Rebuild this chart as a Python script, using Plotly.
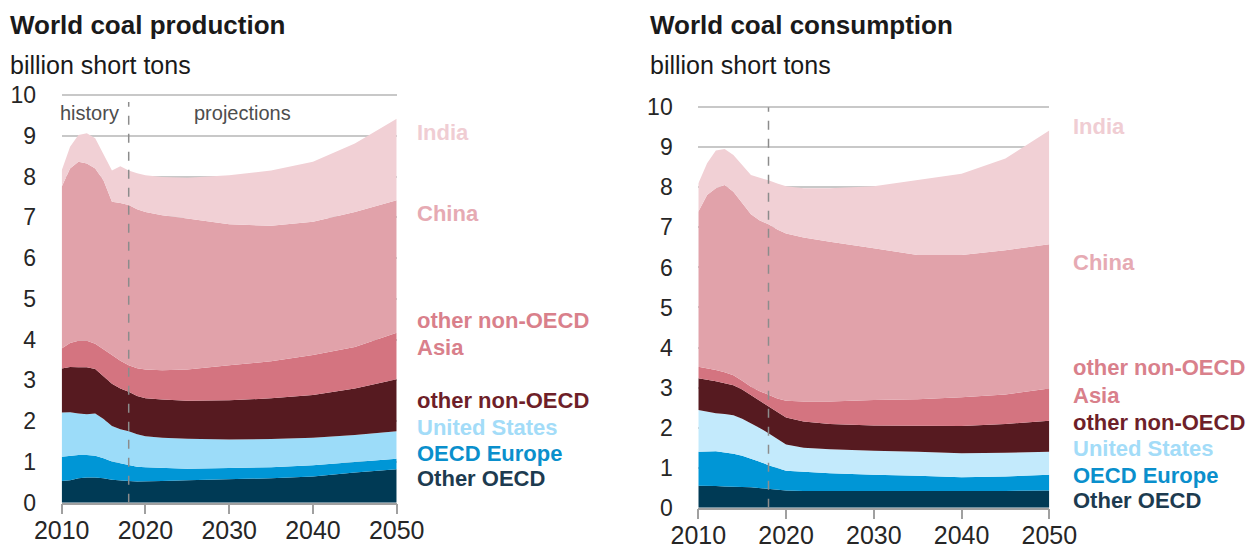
import plotly.graph_objects as go

# ---------------- data ----------------
years = [2010, 2011, 2012, 2013, 2014, 2015, 2016, 2017, 2018, 2019, 2020,
         2022, 2025, 2030, 2035, 2040, 2045, 2050]

series_names = ["Other OECD", "OECD Europe", "United States", "other non-OECD",
                "other non-OECD Asia", "China", "India"]

# World coal production (billion short tons)
prod_other_oecd = [0.53, 0.55, 0.60, 0.62, 0.62, 0.60, 0.56, 0.54, 0.53, 0.52, 0.52,
                   0.53, 0.55, 0.57, 0.60, 0.64, 0.74, 0.82]
prod_oecd_europe = [0.60, 0.60, 0.57, 0.55, 0.53, 0.49, 0.45, 0.43, 0.39, 0.36, 0.35,
                    0.32, 0.28, 0.28, 0.27, 0.28, 0.26, 0.26]
prod_united_states = [1.08, 1.07, 1.02, 1.00, 1.04, 0.96, 0.87, 0.83, 0.83, 0.80, 0.76,
                      0.74, 0.74, 0.70, 0.69, 0.67, 0.66, 0.67]
prod_other_non_oecd = [1.08, 1.11, 1.13, 1.15, 1.09, 1.05, 1.04, 1.00, 0.97, 0.94, 0.93,
                       0.94, 0.93, 0.96, 1.00, 1.05, 1.14, 1.28]
prod_other_nonoecd_asia = [0.49, 0.59, 0.65, 0.65, 0.62, 0.65, 0.70, 0.68, 0.65, 0.68, 0.71,
                           0.72, 0.77, 0.86, 0.91, 0.98, 1.02, 1.14]
prod_china = [3.97, 4.28, 4.39, 4.35, 4.30, 4.15, 3.76, 3.87, 3.93, 3.90, 3.86,
              3.80, 3.70, 3.46, 3.32, 3.27, 3.31, 3.25]
prod_india = [0.40, 0.53, 0.66, 0.74, 0.74, 0.66, 0.77, 0.90, 0.85, 0.88, 0.90,
              0.94, 1.00, 1.20, 1.36, 1.47, 1.68, 2.00]

# World coal consumption (billion short tons)
cons_other_oecd = [0.55, 0.55, 0.54, 0.53, 0.53, 0.52, 0.51, 0.49, 0.47, 0.45, 0.43,
                   0.42, 0.42, 0.41, 0.41, 0.41, 0.42, 0.43]
cons_oecd_europe = [0.85, 0.86, 0.87, 0.85, 0.82, 0.78, 0.72, 0.66, 0.59, 0.53, 0.49,
                    0.48, 0.44, 0.41, 0.39, 0.35, 0.36, 0.39]
cons_united_states = [1.04, 0.99, 0.95, 0.96, 0.96, 0.92, 0.88, 0.84, 0.80, 0.74, 0.66,
                      0.60, 0.60, 0.60, 0.60, 0.60, 0.59, 0.58]
cons_other_non_oecd = [0.79, 0.80, 0.80, 0.77, 0.75, 0.73, 0.70, 0.68, 0.66, 0.66, 0.67,
                       0.65, 0.63, 0.63, 0.65, 0.68, 0.72, 0.77]
cons_other_nonoecd_asia = [0.29, 0.28, 0.28, 0.27, 0.25, 0.22, 0.21, 0.24, 0.29, 0.35, 0.42,
                           0.50, 0.56, 0.64, 0.66, 0.72, 0.74, 0.81]
cons_china = [3.87, 4.33, 4.54, 4.68, 4.58, 4.45, 4.31, 4.26, 4.27, 4.22, 4.18,
              4.10, 3.99, 3.79, 3.60, 3.55, 3.60, 3.60]
cons_india = [0.71, 0.79, 0.94, 0.90, 0.92, 0.94, 0.98, 1.07, 1.10, 1.15, 1.18,
              1.23, 1.34, 1.55, 1.87, 2.03, 2.29, 2.84]

projection_start = 2018
x_ticks = [2010, 2020, 2030, 2040, 2050]
y_ticks = [0, 1, 2, 3, 4, 5, 6, 7, 8, 9, 10]

# ---------------- styles ----------------
fill_colors = ["#003a55", "#0096d6", "#9cdcf9", "#561a20", "#d47480", "#e1a2aa", "#f1d0d5"]
fill_colors_cons = ["#003a55", "#0096d6", "#c3eafc", "#561a20", "#d47480", "#e1a2aa", "#f1d0d5"]
label_colors = ["#1d3b50", "#0a8fcc", "#a3dcf8", "#6e1f29", "#d9808b", "#e6aab3", "#f0cdd3"]

FONT = "Liberation Sans, Arial, sans-serif"
W, H = 1258, 550
OFF = 8  # page body margin in the screenshot
YTOP = 10.05  # small headroom so the top gridline (10) is drawn

prod = [prod_other_oecd, prod_oecd_europe, prod_united_states, prod_other_non_oecd,
        prod_other_nonoecd_asia, prod_china, prod_india]
cons = [cons_other_oecd, cons_oecd_europe, cons_united_states, cons_other_non_oecd,
        cons_other_nonoecd_asia, cons_china, cons_india]

fig = go.Figure()
for name, vals, col in zip(series_names, prod, fill_colors):
    fig.add_trace(go.Scatter(x=years, y=vals, name=name, mode="lines",
                             stackgroup="prod", line=dict(width=0, color=col),
                             fillcolor=col, xaxis="x", yaxis="y", showlegend=False))
for name, vals, col in zip(series_names, cons, fill_colors_cons):
    fig.add_trace(go.Scatter(x=years, y=vals, name=name, mode="lines",
                             stackgroup="cons", line=dict(width=0, color=col),
                             fillcolor=col, xaxis="x2", yaxis="y2", showlegend=False))


def px_x(p):
    return (p - OFF) / W


def px_y(p):
    return 1 - (p - OFF) / H


# pixel geometry of the two panels (y0 = pixel of value 0, ppu = pixels per unit)
L_Y0, L_PPU = 502.7, 40.77
R_Y0, R_PPU = 507.7, 40.04

xcommon = dict(range=[2010, 2050], tickvals=x_ticks, showgrid=False, zeroline=False,
               showline=True, linecolor="#a0a0a0", linewidth=1.5,
               ticks="outside", ticklen=10, tickwidth=1.5, tickcolor="#a0a0a0",
               ticklabelstandoff=-5,
               tickfont=dict(family=FONT, size=25, color="#262626"), fixedrange=True,
               automargin=False)
ycommon = dict(range=[0, YTOP], tickvals=y_ticks, showgrid=True, gridcolor="#c8c8c8",
               gridwidth=1.5, zeroline=False, showline=False,
               ticks="outside", ticklen=20, tickcolor="rgba(0,0,0,0)",
               tickfont=dict(family=FONT, size=23, color="#262626"), fixedrange=True,
               automargin=False)

fig.update_layout(
    width=W, height=H, autosize=False,
    margin=dict(l=0, r=0, t=0, b=0, pad=0),
    paper_bgcolor="white", plot_bgcolor="white",
    xaxis=dict(domain=[px_x(61.7), px_x(396.7)], anchor="y", **xcommon),
    yaxis=dict(domain=[px_y(L_Y0), px_y(L_Y0 - YTOP * L_PPU)], anchor="x", **ycommon),
    xaxis2=dict(domain=[px_x(698.3), px_x(1049.3)], anchor="y2", **xcommon),
    yaxis2=dict(domain=[px_y(R_Y0), px_y(R_Y0 - YTOP * R_PPU)], anchor="x2", **ycommon),
)

# dashed history / projections divider
fig.add_shape(type="line", xref="x", yref="y", x0=projection_start, x1=projection_start,
              y0=0, y1=9.83, line=dict(color="#8c8c8c", width=1.5, dash="dash"))
fig.add_shape(type="line", xref="x2", yref="y2", x0=projection_start, x1=projection_start,
              y0=0, y1=10, line=dict(color="#8c8c8c", width=1.5, dash="dash"))

ann = []
ann.append(dict(text="history", xref="x", yref="y", x=2013.3, y=9.55, showarrow=False,
                font=dict(family=FONT, size=20, color="#4d4d4d")))
ann.append(dict(text="projections", xref="x", yref="y", x=2031.6, y=9.55, showarrow=False,
                font=dict(family=FONT, size=20, color="#4d4d4d")))

# titles
for x0, title in [(10, "World coal production"), (650, "World coal consumption")]:
    ann.append(dict(text="<b>" + title + "</b>", xref="paper", yref="paper",
                    x=px_x(x0 - 2), y=px_y(25), xanchor="left", yanchor="middle",
                    showarrow=False, font=dict(family=FONT, size=26, color="#1a1a1a")))
    ann.append(dict(text="billion short tons", xref="paper", yref="paper",
                    x=px_x(x0 - 2), y=px_y(65), xanchor="left", yanchor="middle",
                    showarrow=False, font=dict(family=FONT, size=25, color="#1a1a1a")))

# series labels
label_texts = ["Other OECD", "OECD Europe", "United States", "other non-OECD",
               "other non-OECD", "Asia", "China", "India"]
label_col_idx = [0, 1, 2, 3, 4, 4, 5, 6]
left_label_y = [478, 453, 427, 400, 320, 347, 213, 132]
right_label_y = [500, 475, 448, 422, 367, 395, 262, 127]
for txt, ci, yl, yr in zip(label_texts, label_col_idx, left_label_y, right_label_y):
    for x0, yy in [(417, yl), (1073, yr)]:
        ann.append(dict(text="<b>" + txt + "</b>", xref="paper", yref="paper",
                        x=px_x(x0 - 2), y=px_y(yy), xanchor="left", yanchor="middle",
                        showarrow=False,
                        font=dict(family=FONT, size=22, color=label_colors[ci])))

fig.update_layout(annotations=ann)
fig.write_html("out.html")
